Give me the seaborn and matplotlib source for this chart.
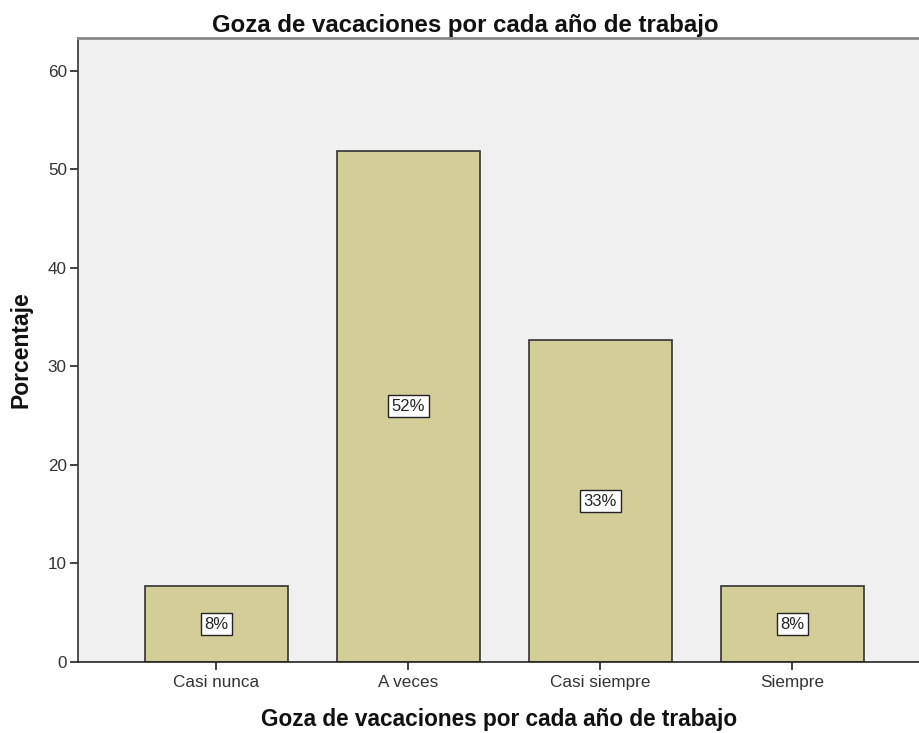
import matplotlib
matplotlib.use("Agg")
import matplotlib.pyplot as plt
import seaborn as sns
import pandas as pd

categories = ["Casi nunca", "A veces", "Casi siempre", "Siempre"]
percentages = [7.69, 51.92, 32.69, 7.69]
labels = ["8%", "52%", "33%", "8%"]
yticks = [0, 10, 20, 30, 40, 50, 60]

df = pd.DataFrame({"cat": categories, "pct": percentages})

sns.set_style("white")
plt.rcParams["font.family"] = ["Liberation Sans", "DejaVu Sans"]

fig = plt.figure(figsize=(9.2, 7.33), dpi=100)
ax = fig.add_axes([78/920, 71/733, 1 - 78/920, (662-38)/733])
ax.set_facecolor("#F0F0F0")

sns.barplot(data=df, x="cat", y="pct", color="#D3CE97", width=0.745,
            edgecolor="#333333", linewidth=1.2, saturation=1, ax=ax)

for i, (v, lab) in enumerate(zip(percentages, labels)):
    ax.text(i, v / 2, lab, ha="center", va="center", fontsize=12, color="#222222",
            bbox=dict(boxstyle="square,pad=0.2", fc="white", ec="#222222", lw=1))

ax.set_xlim(-0.721, 3.664)
ax.set_ylim(0, 63.35)
ax.set_yticks(yticks)
ax.tick_params(axis="both", which="both", length=6, width=1.2, color="#222222",
               labelsize=12.3, labelcolor="#333333", direction="out", left=True, bottom=True)
ax.tick_params(axis="y", pad=2)

ax.spines["right"].set_visible(False)
ax.spines["left"].set_color("#333333")
ax.spines["left"].set_linewidth(1.2)
ax.spines["bottom"].set_color("#222222")
ax.spines["bottom"].set_linewidth(1.2)
ax.spines["top"].set_color("#888888")
ax.spines["top"].set_linewidth(2)

ax.set_title("Goza de vacaciones por cada año de trabajo", fontsize=17.3, fontweight="bold",
             color="#111111", pad=4, x=(465 - 78) / 842)
ax.set_xlabel("Goza de vacaciones por cada año de trabajo", fontsize=16.3, fontweight="bold",
              color="#111111", labelpad=13)
ax.set_ylabel("Porcentaje", fontsize=16.5, fontweight="bold", color="#111111", labelpad=11)

fig.savefig("out.png", dpi=100)
